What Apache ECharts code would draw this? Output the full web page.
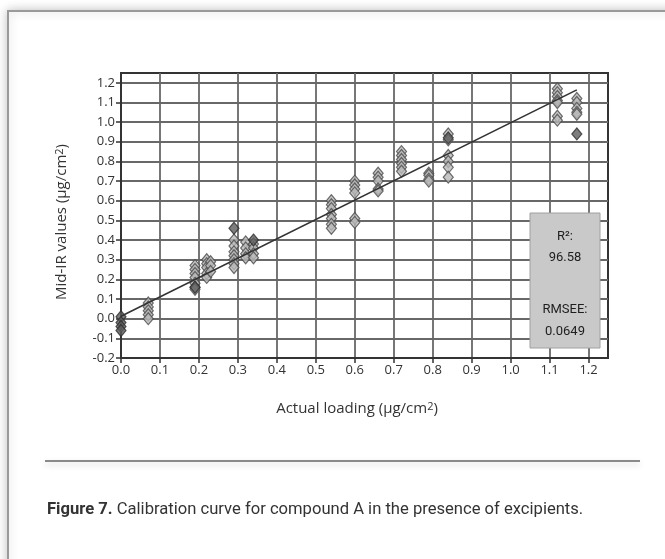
<!DOCTYPE html>
<html>
<head>
<meta charset="utf-8">
<script src="https://cdn.jsdelivr.net/npm/echarts@6/dist/echarts.min.js"></script>
<style>
  html, body { margin: 0; padding: 0; background: #ffffff; }
  #chart { width: 665px; height: 559px; }
</style>
</head>
<body>
<div id="chart"></div>
<script>
// Calibration data: actual loading (x) vs. Mid-IR predicted value (y), both in µg/cm²
const lightX = [
  0.07, 0.07, 0.07, 0.07, 0.07,
  0.19, 0.19, 0.19, 0.19, 0.19, 0.19, 0.19,
  0.22, 0.22, 0.22, 0.22, 0.22,
  0.23, 0.23, 0.23,
  0.29, 0.29, 0.29, 0.29, 0.29, 0.29, 0.29,
  0.32, 0.32, 0.32, 0.32,
  0.34, 0.34, 0.34, 0.34,
  0.54, 0.54, 0.54, 0.54, 0.54, 0.54, 0.54,
  0.60, 0.60, 0.60, 0.60, 0.60, 0.60,
  0.66, 0.66, 0.66, 0.66, 0.66,
  0.72, 0.72, 0.72, 0.72, 0.72, 0.72,
  0.79, 0.79, 0.79, 0.79,
  0.84, 0.84, 0.84, 0.84, 0.84, 0.84,
  1.12, 1.12, 1.12, 1.12, 1.12, 1.12, 1.12,
  1.17, 1.17, 1.17, 1.17, 1.17
];
const lightY = [
  0.08, 0.06, 0.04, 0.02, 0.00,
  0.27, 0.25, 0.23, 0.21, 0.18, 0.16, 0.15,
  0.30, 0.28, 0.26, 0.23, 0.21,
  0.29, 0.27, 0.24,
  0.40, 0.37, 0.34, 0.32, 0.30, 0.28, 0.26,
  0.39, 0.36, 0.33, 0.31,
  0.38, 0.36, 0.33, 0.31,
  0.60, 0.58, 0.56, 0.53, 0.51, 0.48, 0.46,
  0.70, 0.68, 0.66, 0.64, 0.51, 0.49,
  0.74, 0.72, 0.70, 0.66, 0.65,
  0.85, 0.83, 0.81, 0.79, 0.77, 0.75,
  0.74, 0.73, 0.71, 0.70,
  0.94, 0.91, 0.83, 0.80, 0.77, 0.72,
  1.17, 1.15, 1.13, 1.11, 1.10, 1.03, 1.01,
  1.12, 1.10, 1.07, 1.05, 1.04
];
const darkX = [0.0, 0.0, 0.0, 0.0, 0.19, 0.29, 0.34, 0.84, 1.17];
const darkY = [0.01, -0.02, -0.04, -0.06, 0.16, 0.46, 0.40, 0.92, 0.94];

// Regression line end points
const fitX = [0.0, 1.17];
const fitY = [0.012, 1.164];

// Tick positions
const xTicks = [0.0, 0.1, 0.2, 0.3, 0.4, 0.5, 0.6, 0.7, 0.8, 0.9, 1.0, 1.1, 1.2];
const yTicks = [-0.2, -0.1, 0.0, 0.1, 0.2, 0.3, 0.4, 0.5, 0.6, 0.7, 0.8, 0.9, 1.0, 1.1, 1.2];

// Fit statistics
const statR2 = '96.58';
const statRmsee = '0.0649';

const zip = (xs, ys) => xs.map((x, i) => [x, ys[i]]);
const fmt = v => (Math.round(v * 10) / 10).toFixed(1);

const axisFont = '"Open Sans", "Liberation Sans", sans-serif';
const narrowFont = '"Roboto", "Liberation Sans", sans-serif';

const chart = echarts.init(document.getElementById('chart'), null, { renderer: 'canvas' });

chart.setOption({
  backgroundColor: '#ffffff',
  animation: false,
  grid: {
    left: 121, top: 73, right: 57, bottom: 201,
    show: true, borderColor: '#333333', borderWidth: 2, backgroundColor: 'transparent'
  },
  xAxis: {
    type: 'value', min: 0, max: 1.25, interval: 0.1,
    axisLine: { show: true, onZero: false, lineStyle: { color: '#333333', width: 2 } },
    axisTick: { show: true, inside: false, length: 5, customValues: xTicks, lineStyle: { color: '#333333', width: 1.5 } },
    axisLabel: { customValues: xTicks, formatter: fmt, color: '#333333', fontSize: 13, fontFamily: axisFont, margin: 6 },
    splitLine: { show: true, lineStyle: { color: '#686868', width: 1.8 } }
  },
  yAxis: {
    type: 'value', min: -0.2, max: 1.25, interval: 0.1,
    axisLine: { show: true, onZero: false, lineStyle: { color: '#333333', width: 2 } },
    axisTick: { show: true, inside: false, length: 5, customValues: yTicks, lineStyle: { color: '#333333', width: 1.5 } },
    axisLabel: { customValues: yTicks, formatter: fmt, color: '#333333', fontSize: 13, fontFamily: axisFont, margin: 6 },
    splitLine: { show: true, lineStyle: { color: '#686868', width: 1.8 } }
  },
  series: [
    {
      name: 'samples',
      type: 'scatter',
      symbol: 'diamond',
      symbolSize: [10, 12],
      clip: false,
      itemStyle: { color: '#b9b9b9', borderColor: '#4a4a4a', borderWidth: 1.2 },
      data: zip(lightX, lightY),
      z: 3
    },
    {
      name: 'samples (dark)',
      type: 'scatter',
      symbol: 'diamond',
      symbolSize: [10, 12],
      clip: false,
      itemStyle: { color: '#5c5c5c', borderColor: '#2e2e2e', borderWidth: 1.2 },
      data: zip(darkX, darkY),
      z: 4
    },
    {
      name: 'fit',
      type: 'line',
      symbol: 'none',
      lineStyle: { color: '#333333', width: 1.6 },
      data: zip(fitX, fitY),
      z: 5
    }
  ],
  graphic: [
    {
      type: 'rect', z: -10, silent: true,
      shape: { x: 8, y: 11, width: 700, height: 600 },
      style: { fill: '#ffffff', stroke: '#9a9a9a', lineWidth: 2, shadowBlur: 10, shadowColor: 'rgba(0,0,0,0.22)' }
    },
    {
      type: 'line', z: 10, silent: true,
      shape: { x1: 45, y1: 461, x2: 640, y2: 461 },
      style: { stroke: '#8a8a8a', lineWidth: 2, shadowBlur: 6, shadowOffsetY: 3, shadowColor: 'rgba(0,0,0,0.18)' }
    },
    {
      type: 'text', z: 10, silent: true,
      x: 357, y: 409,
      style: {
        text: 'Actual loading (\u03bcg/cm{sup|2})',
        font: '15px ' + axisFont, fill: '#333333',
        align: 'center', verticalAlign: 'middle',
        rich: { sup: { fontSize: 11, fontFamily: axisFont, verticalAlign: 'top', fill: '#333333' } }
      }
    },
    {
      type: 'text', z: 10, silent: true,
      x: 62, y: 222, rotation: Math.PI / 2,
      style: {
        text: 'Mid-IR values (\u03bcg/cm{sup|2})',
        font: '15px ' + axisFont, fill: '#333333',
        align: 'center', verticalAlign: 'middle',
        rich: { sup: { fontSize: 11, fontFamily: axisFont, verticalAlign: 'top', fill: '#333333' } }
      }
    },
    {
      type: 'text', z: 10, silent: true,
      x: 47, y: 510,
      style: {
        text: '{b|Figure 7.} Calibration curve for compound A in the presence of excipients.',
        font: '16.6px ' + narrowFont, fill: '#333333',
        align: 'left', verticalAlign: 'middle',
        rich: { b: { fontWeight: 'bold', fontSize: 16.6, fontFamily: narrowFont, fill: '#333333' } }
      }
    },
    {
      type: 'group', z: 20,
      children: [
        {
          type: 'rect', z: 20, silent: true,
          shape: { x: 530, y: 213, width: 70, height: 135 },
          style: { fill: '#c9c9c9', stroke: '#a0a0a0', lineWidth: 1 }
        },
        { type: 'text', z: 21, x: 565, y: 237, style: { text: 'R\u00b2:', font: '13px ' + narrowFont, fill: '#1e1e1e', align: 'center', verticalAlign: 'middle' } },
        { type: 'text', z: 21, x: 565, y: 258, style: { text: statR2, font: '13px ' + narrowFont, fill: '#1e1e1e', align: 'center', verticalAlign: 'middle' } },
        { type: 'text', z: 21, x: 565, y: 310, style: { text: 'RMSEE:', font: '13px ' + narrowFont, fill: '#1e1e1e', align: 'center', verticalAlign: 'middle' } },
        { type: 'text', z: 21, x: 565, y: 332, style: { text: statRmsee, font: '13px ' + narrowFont, fill: '#1e1e1e', align: 'center', verticalAlign: 'middle' } }
      ]
    }
  ]
});
</script>
</body>
</html>
